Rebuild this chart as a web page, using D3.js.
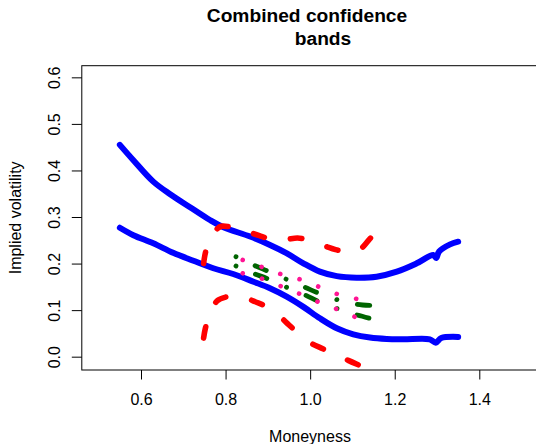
<!DOCTYPE html>
<html>
<head>
<meta charset="utf-8">
<script src="https://cdn.jsdelivr.net/npm/d3@7"></script>
<style>
  body { margin: 0; background: #fff; }
  text { font-family: "Liberation Sans", Arial, sans-serif; fill: #000; }
</style>
</head>
<body>
<script>
var w = 536;
var h = 444;

// blue solid bands
var blueX = [0.55, 0.582, 0.629, 0.669, 0.716, 0.763, 0.795, 0.858, 0.905, 0.945, 0.984, 1.023, 1.063, 1.110, 1.157, 1.205, 1.252, 1.291, 1.298, 1.305, 1.331, 1.35];
var blueUpper = [0.455, 0.422, 0.376, 0.349, 0.321, 0.2935, 0.278, 0.258, 0.240, 0.222, 0.2005, 0.1826, 0.173, 0.1697, 0.1718, 0.1826, 0.2005, 0.2184, 0.212, 0.226, 0.2413, 0.247];
var blueLowX = [0.55, 0.582, 0.629, 0.676, 0.724, 0.771, 0.818, 0.866, 0.905, 0.9445, 0.984, 1.023, 1.063, 1.102, 1.1415, 1.181, 1.220, 1.283, 1.297, 1.31, 1.35];
var blueLower = [0.277, 0.261, 0.2435, 0.223, 0.206, 0.19, 0.1776, 0.161, 0.147, 0.129, 0.107, 0.0824, 0.061, 0.048, 0.041, 0.038, 0.0374, 0.0374, 0.030, 0.040, 0.0425];

// red dashed bands
var redUpX = [0.748, 0.752, 0.758, 0.767, 0.777, 0.79, 0.81, 0.83, 0.86, 0.88, 0.9, 0.92, 0.945, 0.97, 0.99, 1.01, 1.04, 1.06, 1.08, 1.1, 1.12, 1.14, 1.155, 1.17];
var redUpper = [0.20, 0.222, 0.24, 0.258, 0.272, 0.28, 0.279, 0.276, 0.266, 0.260, 0.254, 0.250, 0.252, 0.255, 0.252, 0.246, 0.236, 0.23, 0.226, 0.225, 0.232, 0.252, 0.267, 0.282];
var redLowX = [0.748, 0.752, 0.76, 0.77, 0.78, 0.80, 0.82, 0.85, 0.87, 0.90, 0.93, 0.95, 0.975, 1.00, 1.03, 1.06, 1.09, 1.12, 1.14, 1.17];
var redLower = [0.040, 0.06, 0.085, 0.105, 0.12, 0.128, 0.13, 0.125, 0.118, 0.106, 0.085, 0.068, 0.048, 0.03, 0.017, 0.005, -0.008, -0.02, -0.028, -0.04];

// green dot-dash bands
var greenX = [0.8246, 0.8655, 0.9034, 0.9445, 0.988, 1.0215, 1.066, 1.1115, 1.1415];
var greenUpper = [0.2147, 0.197, 0.1825, 0.166, 0.149, 0.136, 0.1218, 0.1125, 0.110];
var greenLower = [0.1948, 0.179, 0.166, 0.149, 0.1325, 0.118, 0.1024, 0.0895, 0.0824];

// pink dotted bands
var pinkX = [0.8405, 0.885, 0.93, 0.976, 1.021, 1.064, 1.110];
var pinkUpper = [0.2077, 0.193, 0.1776, 0.166, 0.150, 0.1346, 0.124];
var pinkLower = [0.179, 0.168, 0.1518, 0.1346, 0.1168, 0.1018, 0.0837];

var xTicks = [0.6, 0.8, 1.0, 1.2, 1.4];
var yTicks = [0.0, 0.1, 0.2, 0.3, 0.4, 0.5, 0.6];

window.onload = function() {

  var svg = d3.select("body")
              .append("svg")
              .attr("width", w)
              .attr("height", h);

  var left = 81.8, right = 538.5, top = 65.7, bottom = 370;

  var xScale = d3.scaleLinear().domain([0.46, 1.54]).range([left, right]);
  var yScale = d3.scaleLinear().domain([-0.0286, 0.625]).range([bottom, top]);

  svg.append("clipPath").attr("id", "clip")
     .append("rect")
     .attr("x", left).attr("y", top)
     .attr("width", right - left).attr("height", bottom - top);

  var plot = svg.append("g").attr("clip-path", "url(#clip)");

  function drawLine(xs, ys, color, width, dash) {
    var pts = xs.map(function(x, i) { return [x, ys[i]]; });
    var line = d3.line()
                 .x(function(d) { return xScale(d[0]); })
                 .y(function(d) { return yScale(d[1]); })
                 .curve(d3.curveCatmullRom);
    plot.append("path")
        .datum(pts)
        .attr("d", line)
        .attr("fill", "none")
        .attr("stroke", color)
        .attr("stroke-width", width)
        .attr("stroke-linecap", "round")
        .attr("stroke-linejoin", "round")
        .attr("stroke-dasharray", dash);
  }

  // solid outer bands
  drawLine(blueX, blueUpper, "#0000ff", 6, null);
  drawLine(blueLowX, blueLower, "#0000ff", 6, null);
  // dashed bands
  drawLine(redUpX, redUpper, "#ff0000", 5.6, "11.5,26.5");
  drawLine(redLowX, redLower, "#ff0000", 5.6, "11.5,26.5");
  // dot-dash bands
  drawLine(greenX, greenUpper, "#006400", 4.8, "0.1,21,12.2,21.5");
  drawLine(greenX, greenLower, "#006400", 4.8, "0.1,21,12.2,21.5");
  // dotted bands
  drawLine(pinkX, pinkUpper, "#ff1493", 4.6, "0.1,19.9");
  drawLine(pinkX, pinkLower, "#ff1493", 4.6, "0.1,19.9");

  // box
  svg.append("rect")
     .attr("x", left).attr("y", top)
     .attr("width", right - left).attr("height", bottom - top)
     .attr("fill", "none")
     .attr("stroke", "#000")
     .attr("stroke-width", 1);

  // x axis
  var xAxis = d3.axisBottom(xScale)
                .tickValues(xTicks)
                .tickSize(9.5)
                .tickPadding(14)
                .tickFormat(d3.format(".1f"));
  var gx = svg.append("g")
     .attr("transform", "translate(0," + bottom + ")")
     .call(xAxis);
  gx.select(".domain").remove();
  gx.selectAll("text").style("font-size", "16px").attr("font-family", null);

  // y axis, labels turned like R
  var yAxis = d3.axisLeft(yScale)
                .tickValues(yTicks)
                .tickSize(10)
                .tickFormat(d3.format(".1f"));
  var gy = svg.append("g")
     .attr("transform", "translate(" + left + ",0)")
     .call(yAxis);
  gy.select(".domain").remove();
  gy.selectAll("text")
    .attr("x", null).attr("dy", null)
    .attr("text-anchor", "middle")
    .attr("transform", "translate(-22.3,0) rotate(-90)")
    .style("font-size", "16px")
    .attr("font-family", null);

  // labels
  svg.append("text")
     .attr("x", 310).attr("y", 441.5)
     .attr("text-anchor", "middle")
     .style("font-size", "16px")
     .text("Moneyness");

  svg.append("text")
     .attr("transform", "translate(20.5," + (top + bottom) / 2 + ") rotate(-90)")
     .attr("text-anchor", "middle")
     .style("font-size", "16px")
     .text("Implied volatility");

  svg.append("text")
     .attr("x", 307).attr("y", 22)
     .attr("text-anchor", "middle")
     .style("font-size", "19.2px")
     .style("font-weight", "bold")
     .text("Combined confidence");

  svg.append("text")
     .attr("x", 323).attr("y", 45)
     .attr("text-anchor", "middle")
     .style("font-size", "19.2px")
     .style("font-weight", "bold")
     .text("bands");
};
</script>
</body>
</html>
